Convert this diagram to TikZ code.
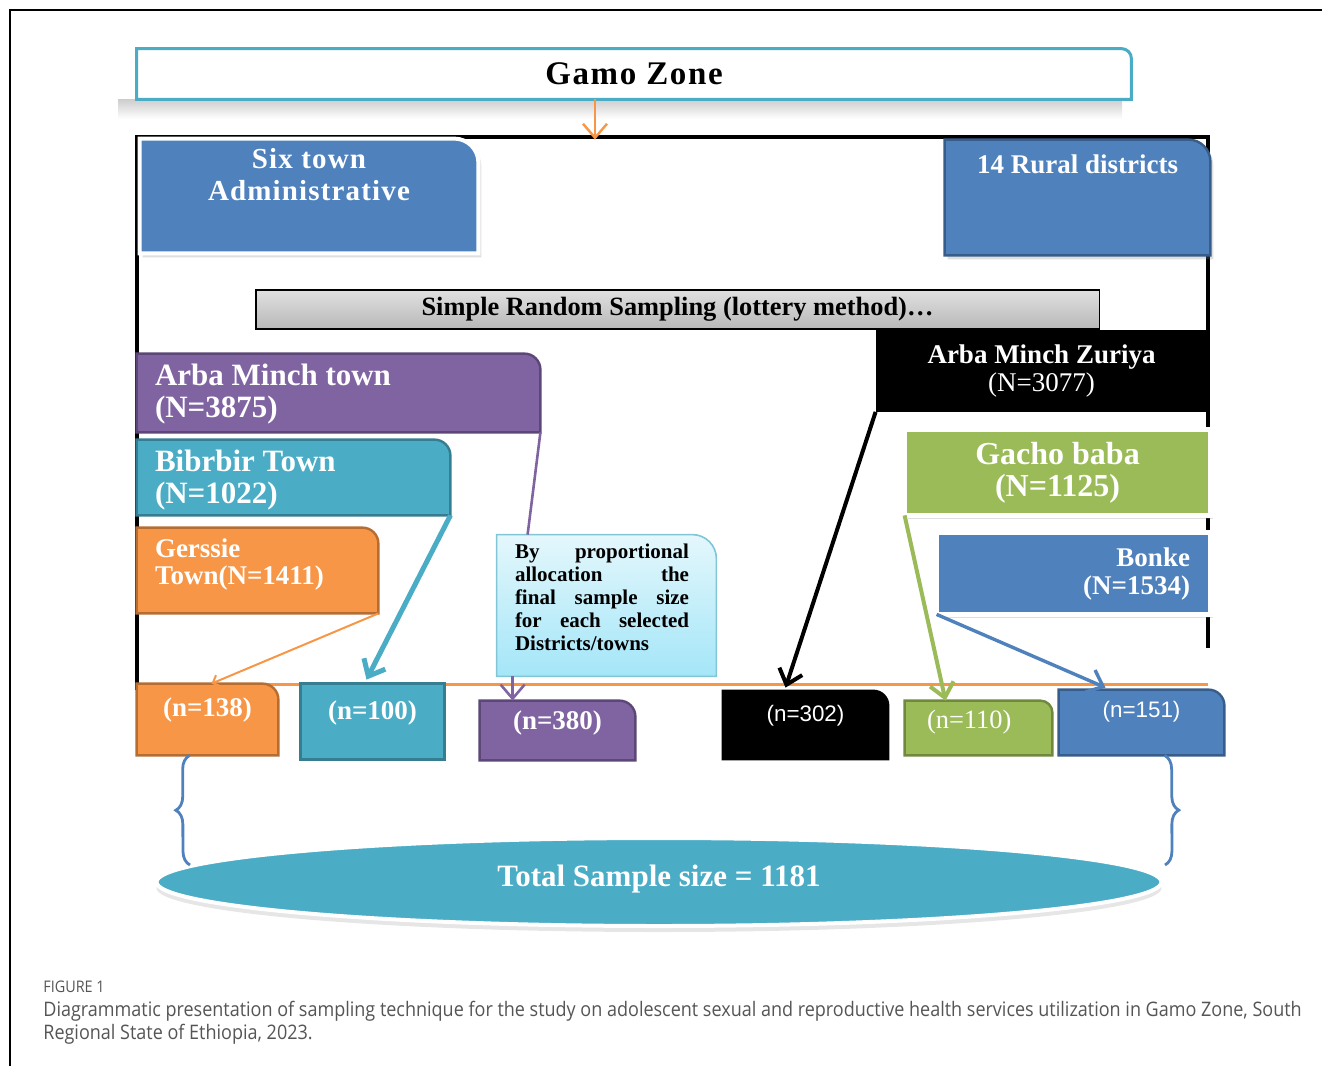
\documentclass[tikz,border=0pt]{standalone}
\usepackage{fontspec}
\setmainfont{Liberation Serif}
\newfontfamily\capfont{Open Sans}[FakeStretch=0.9]
\newfontfamily\nfont{Liberation Sans}
\usepackage{tikz}
\usetikzlibrary{arrows.meta, positioning, shapes.geometric, shadows, backgrounds, decorations.pathreplacing}
\definecolor{gamoteal}{HTML}{4BACC6}
\definecolor{tealdark}{HTML}{357D91}
\definecolor{townblue}{HTML}{4F81BD}
\definecolor{bluedark}{HTML}{385D8A}
\definecolor{townpurple}{HTML}{8064A2}
\definecolor{purpledark}{HTML}{5C4776}
\definecolor{townorange}{HTML}{F79646}
\definecolor{orangedark}{HTML}{B66D31}
\definecolor{towngreen}{HTML}{9BBB59}
\definecolor{greendark}{HTML}{71893F}
\definecolor{calloutlight}{HTML}{E4F7FC}
\definecolor{calloutdark}{HTML}{A4E6F8}
\definecolor{captiongray}{HTML}{555555}
\tikzstyle{every node}=[inner sep=0pt, text=white]
\tikzstyle{tab}=[font=\bfseries]
\tikzstyle{link}=[-{Straight Barb[length=7pt, width=12pt]}]
\tikzstyle{brace}=[decorate, decoration={brace, amplitude=7pt}, townblue, line width=1.4pt]
\tikzstyle{soft}=[drop shadow={shadow xshift=1.5pt, shadow yshift=-2pt, opacity=0.25}]
\newcommand{\boxtext}[4]{\parbox[c][#2][t]{#1}{\vspace*{#3}#4}}
\newcommand{\tabshape}[3]{\path[#2] (#1.south west) -- (#1.north west) -- ([xshift=-#3]#1.north east) arc[start angle=90, end angle=0, radius=#3] -- (#1.south east) -- cycle;}
\newcommand{\sqshape}[2]{\path[#2] (#1.south west) rectangle (#1.north east);}

\begin{document}
\begin{tikzpicture}[x=0.5pt, y=-0.5pt]
  \useasboundingbox (0,0) rectangle (1322,1066);
  % zone and the two groups
  \node[text=black, font=\bfseries\fontsize{16.5}{18}\selectfont\addfontfeature{LetterSpace=5}, minimum width=497pt, minimum height=25pt] (gamo) at (634,74) {Gamo Zone};
  \node[tab] (six) at (309,196) {\boxtext{169pt}{57pt}{4.6pt}{\centering\fontsize{14.5}{16}\selectfont\addfontfeature{LetterSpace=4}Six town\\Administrative}};
  \node[tab] (rural) at (1077.5,197.5) {\boxtext{132.5pt}{57.5pt}{7.3pt}{\centering\fontsize{13.5}{15}\selectfont 14 Rural districts}};
  \node[text=black, font=\bfseries\fontsize{13.2}{15}\selectfont, minimum width=421.5pt, minimum height=19pt] (srs) at (677.5,309.5) {\raisebox{-1pt}{Simple Random Sampling (lottery method)…}};
  % towns
  \node[tab] (amt) at (338.5,393) {\boxtext{201.5pt}{39pt}{5pt}{\raggedright\leftskip=9pt\fontsize{15.5}{16}\selectfont Arba Minch town\\(N=3875)}};
  \node[tab] (bib) at (293.5,477.5) {\boxtext{156.5pt}{37.5pt}{5pt}{\raggedright\leftskip=9pt\fontsize{15.5}{16}\selectfont Bibrbir Town\\(N=1022)}};
  \node[tab] (ger) at (257.5,570.5) {\boxtext{120.5pt}{42.5pt}{5.3pt}{\raggedright\leftskip=9pt\fontsize{13.5}{13.5}\selectfont Gerssie\\Town(N=1411)}};
  \node[tab, text=black] (callout) at (606.5,605.5) {\boxtext{109.5pt}{70.5pt}{4.3pt}{\fontsize{10.5}{11.5}\selectfont\parindent=0pt\leftskip=9pt\rightskip=13.5pt
    By\hfill proportional\\allocation\hfill the\\final\hfill sample\hfill size\\for\hfill each\hfill selected\\Districts/towns}};
  % districts
  \node[minimum width=165.5pt, minimum height=40.5pt, align=center, font=\fontsize{13.5}{14}\selectfont] (zuriya) at (1041.5,371) {\textbf{Arba Minch Zuriya}\\(N=3077)};
  \node[tab, minimum width=152.5pt, minimum height=42.5pt, align=center, font=\bfseries\fontsize{16}{16}\selectfont] (gacho) at (1057.5,472.5) {Gacho baba\\(N=1125)};
  \node[tab, minimum width=136.5pt, minimum height=40.5pt, text width=116.5pt, align=right, font=\bfseries\fontsize{13.5}{14}\selectfont] (bonke) at (1073.5,573.5) {Bonke\\(N=1534)};
  % samples
  \node[tab] (n138) at (207.5,719.5) {\boxtext{70.5pt}{35.5pt}{7.1pt}{\centering\fontsize{13.5}{15}\selectfont (n=138)}};
  \node[tab] (n100) at (372.5,721.5) {\boxtext{71.5pt}{37.5pt}{8.6pt}{\centering\fontsize{13.5}{15}\selectfont (n=100)}};
  \node[tab] (n380) at (557.5,730.5) {\boxtext{77.5pt}{29.5pt}{5.1pt}{\centering\fontsize{13.5}{15}\selectfont (n=380)}};
  \node (n302) at (805.5,725) {\boxtext{83.5pt}{35pt}{7.8pt}{\centering\nfont\fontsize{11.2}{13}\selectfont (n=302)}};
  \node (n110) at (978.5,728) {\boxtext{73.5pt}{27pt}{4.4pt}{\raggedright\leftskip=11pt\fontsize{13.2}{15}\selectfont (n=110)}};
  \node (n151) at (1141.5,722.5) {\boxtext{82.5pt}{32.5pt}{5.8pt}{\centering\nfont\fontsize{11.2}{13}\selectfont (n=151)}};
  \node[ellipse, fill=gamoteal, draw=white, line width=2pt, drop shadow={shadow xshift=0pt, shadow yshift=-3pt, opacity=0.2}, minimum width=502.5pt, minimum height=44pt, font=\bfseries\fontsize{15.5}{17}\selectfont] (total) at (659,882) {\raisebox{6pt}{Total Sample size = 1181}};
  % caption
  \node[anchor=west, text=captiongray, font=\capfont\fontsize{8}{9}\selectfont] (figlabel) at (43,987) {FIGURE 1};
  \node[anchor=north west, text=captiongray, align=left, font=\capfont\fontsize{10}{11.5}\selectfont] (caption) at (43,1001) {Diagrammatic presentation of sampling technique for the study on adolescent sexual and reproductive health services utilization in Gamo Zone, South\\Regional State of Ethiopia, 2023.};

  \begin{scope}[on background layer]
    \draw[line width=1pt] (10,1066) -- (10,10) -- (1322,10);
    \shade[top color=black!20, bottom color=white] (118,99) rectangle (1122,119);
    \draw[line width=1.6pt] (137,690) -- (137,137) -- (1208,137) -- (1208,648);
    \draw[townorange, line width=1.5pt] (137,684) -- (1208,684);
    \tabshape{gamo}{fill=white, draw=gamoteal, line width=1.5pt}{5pt}
    \tabshape{six}{fill=townblue, draw=white, line width=2pt, soft}{12pt}
    \tabshape{rural}{fill=townblue, draw=bluedark, line width=1.2pt, soft}{11pt}
    \sqshape{srs}{top color=black!12, middle color=white!95!black, bottom color=black!28, draw=black, line width=0.9pt}
    \tabshape{amt}{fill=townpurple, draw=purpledark, line width=1.2pt}{8pt}
    \tabshape{bib}{fill=gamoteal, draw=tealdark, line width=1.2pt}{8pt}
    \tabshape{ger}{fill=townorange, draw=orangedark, line width=1.2pt}{8pt}
    \tabshape{callout}{top color=calloutlight, bottom color=calloutdark, draw=gamoteal!70, line width=0.8pt}{12pt}
    \sqshape{zuriya}{fill=black}
    \sqshape{gacho}{fill=towngreen, draw=white, line width=2.5pt, soft}
    \sqshape{bonke}{fill=townblue, draw=white, line width=2.5pt, soft}
    \tabshape{n138}{fill=townorange, draw=orangedark, line width=1.2pt}{8pt}
    \sqshape{n100}{fill=gamoteal, draw=tealdark, line width=1.2pt}
    \tabshape{n380}{fill=townpurple, draw=purpledark, line width=1.2pt}{8pt}
    \tabshape{n302}{fill=black}{8pt}
    \tabshape{n110}{fill=towngreen, draw=greendark, line width=1.2pt}{6pt}
    \tabshape{n151}{fill=townblue, draw=bluedark, line width=1.2pt}{8pt}
  \end{scope}

  % connectors
  \draw[link, townorange, line width=1.2pt] ([xshift=-19.5pt]gamo.south) -- ([xshift=-19.5pt]gamo.south |- rural.north);
  \draw[link, townorange, line width=1pt, {Straight Barb[length=3pt, width=6pt]}-] ([xshift=2pt]n138.north) -- (ger.south east);
  \draw[link, gamoteal, line width=2.5pt] (bib.south east) -- ([xshift=-3pt, yshift=2pt]n100.north);
  \draw[townpurple, line width=1.3pt] (amt.south east) -- ([xshift=15.5pt]callout.north west);
  \draw[link, townpurple, line width=1.3pt] ([xshift=8pt]callout.south west) -- ([xshift=8pt]callout.south west |- n380.north);
  \draw[link, black, line width=2pt] (zuriya.south west) -- ([xshift=-10pt, yshift=1pt]n302.north);
  \draw[link, towngreen, line width=2pt] (gacho.south west) -- ([xshift=-16.5pt]n110.north);
  \draw[link, townblue, line width=1.7pt] (bonke.south west) -- ([xshift=-18pt, yshift=1pt]n151.north);
  \coordinate (lbot) at (190,865);
  \coordinate (rbot) at (1165,865);
  \draw[brace] (lbot) -- ([xshift=26.5pt]n138.south west);
  \draw[brace] ([xshift=53pt]n151.south west) -- (rbot);
\end{tikzpicture}
\end{document}
